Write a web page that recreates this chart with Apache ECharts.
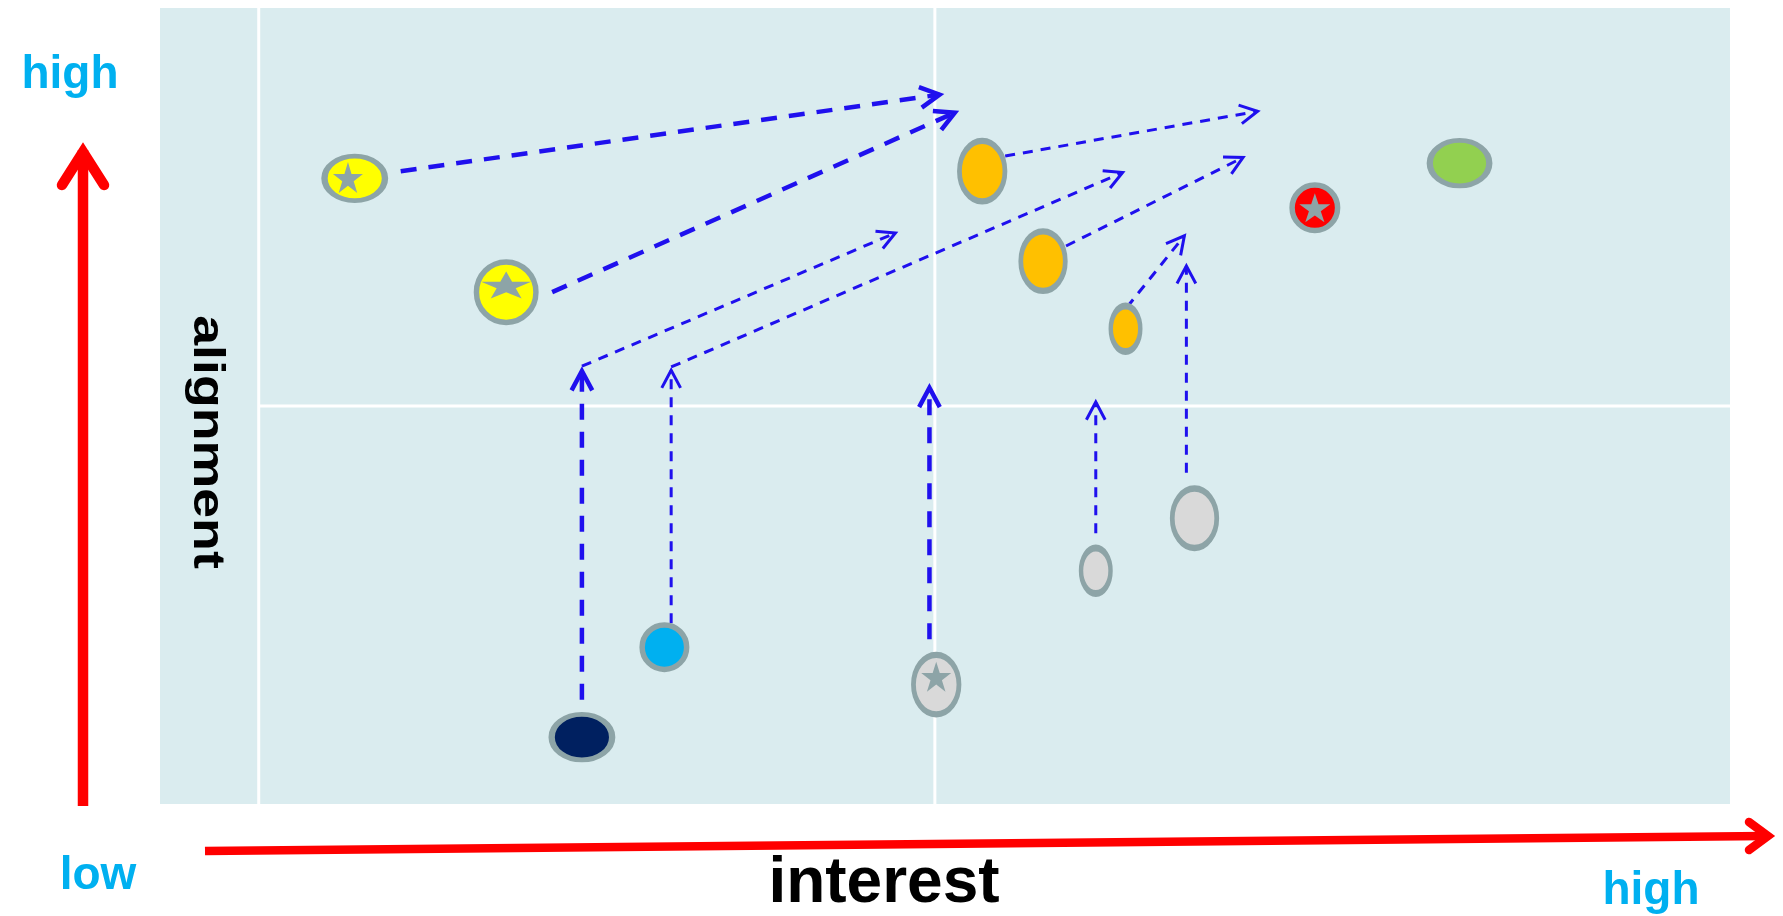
<!DOCTYPE html>
<html>
<head>
<meta charset="utf-8">
<script src="https://cdn.jsdelivr.net/npm/echarts@6/dist/echarts.min.js"></script>
<style>
  html, body { margin: 0; padding: 0; background: #ffffff; }
  #chart { width: 1783px; height: 916px; }
</style>
</head>
<body>
<div id="chart"></div>
<script>
// Stakeholders on the interest (x) / alignment (y) plane
const stakeholderX = [7.1, 18.3, 53.5, 58.0, 64.1, 78.1, 88.8, 23.9, 30.0, 50.1, 61.9, 69.2];
const stakeholderY = [78.6, 64.3, 79.5, 68.2, 59.7, 74.9, 80.5, 8.4, 19.7, 15.0, 29.3, 35.9];
const stakeholderFill = ['#FFFF00', '#FFFF00', '#FFC000', '#FFC000', '#FFC000', '#FF0000',
                         '#92D050', '#002060', '#00B0F0', '#D9D9D9', '#D9D9D9', '#D9D9D9'];
// Bubble footprint (outer width / height, px)
const bubbleW = [66, 65, 51, 50, 35, 51, 65, 66, 50, 51, 35, 50];
const bubbleH = [50, 66, 66, 65, 51, 51, 51, 51, 50, 65, 51, 65];

// Key stakeholders carry a star
const starX = [6.6, 18.3, 78.1, 50.1];
const starY = [78.7, 65.2, 74.9, 16.0];
const starW = [30, 50, 31, 30];
const starH = [31, 27, 29, 30];

// Planned moves: start point -> target point; heavy = primary shift
const moveFromX = [10.5, 21.7, 55.2, 59.7, 64.2, 68.6, 61.9, 49.6, 23.9, 23.9, 30.5, 30.5];
const moveFromY = [79.5, 64.3, 81.4, 70.1, 62.4, 41.6, 34.0, 20.7, 13.1, 55.0, 22.7, 54.9];
const moveToX   = [50.7, 51.8, 74.1, 73.0, 68.6, 68.6, 61.9, 49.6, 23.9, 47.3, 30.5, 64.1];
const moveToY   = [89.2, 87.1, 87.1, 81.4, 71.7, 68.0, 50.9, 52.9, 55.0, 71.9, 54.9, 79.5];
const moveHeavy = [1, 1, 0, 0, 0, 0, 0, 1, 1, 0, 0, 0];

// Quadrant dividers
const dividerX = [0, 50];
const dividerY = [50];

// Axis captions
const yCaption = 'alignment';
const xCaption = 'interest';
const lowLabel = 'low';
const highLabel = 'high';

const BLUE = '#1F10EE';
const EDGE = '#8DA4A7';
const BORDER = 5.5;
const RED = '#FF0000';
const CAPTION_BLUE = '#00B0F0';
const FONT = '"Liberation Sans", Arial, sans-serif';

const STAR_PATH = 'path://M0 -100 L22.45 -30.9 L95.1 -30.9 L36.3 11.8 L58.8 80.9 L0 38.2 L-58.8 80.9 L-36.3 11.8 L-95.1 -30.9 L-22.45 -30.9 Z';

const chart = echarts.init(document.getElementById('chart'), null, { renderer: 'canvas' });

const dividerData = dividerX.map(v => [v, 0, 0]).concat(dividerY.map(v => [0, v, 1]));
const moveData = moveFromX.map((x, i) => [x, moveFromY[i], moveToX[i], moveToY[i], moveHeavy[i]]);

function renderDivider(params, api) {
  const cs = params.coordSys;
  const p = api.coord([api.value(0), api.value(1)]);
  const shape = api.value(2) === 0
    ? { x1: p[0], y1: cs.y, x2: p[0], y2: cs.y + cs.height }
    : { x1: p[0], y1: p[1], x2: cs.x + cs.width, y2: p[1] };
  return { type: 'line', shape: shape, style: { stroke: '#FFFFFF', lineWidth: 3 } };
}

function renderMove(params, api) {
  const a = api.coord([api.value(0), api.value(1)]);
  const b = api.coord([api.value(2), api.value(3)]);
  const heavy = api.value(4) === 1;
  const lw = heavy ? 4.5 : 3;
  const dx = b[0] - a[0], dy = b[1] - a[1];
  const len = Math.hypot(dx, dy);
  const ux = dx / len, uy = dy / len;
  const arm = heavy ? 22 : 20;
  const ang = 28 * Math.PI / 180;
  // pull the vertex back so the mitred tip lands on the target
  const ext = (lw / 2) / Math.sin(ang);
  const v = [b[0] - ux * ext, b[1] - uy * ext];
  const c = Math.cos(ang), s = Math.sin(ang);
  const bx = -ux, by = -uy;
  const p1 = [v[0] + arm * (bx * c - by * s), v[1] + arm * (bx * s + by * c)];
  const p2 = [v[0] + arm * (bx * c + by * s), v[1] + arm * (-bx * s + by * c)];
  return {
    type: 'group',
    children: [
      { type: 'line', shape: { x1: a[0], y1: a[1], x2: v[0], y2: v[1] },
        style: { stroke: BLUE, lineWidth: lw, lineDash: heavy ? [16, 12] : [10, 8], fill: null } },
      { type: 'polyline', shape: { points: [p1, v, p2] },
        style: { stroke: BLUE, lineWidth: lw, lineJoin: 'miter', fill: null } }
    ]
  };
}

const option = {
  backgroundColor: '#FFFFFF',
  animation: false,
  grid: { left: 160, right: 53, top: 8, bottom: 112, show: true,
          backgroundColor: '#DAECEF', borderWidth: 0 },
  xAxis: { type: 'value', min: -7.3, max: 108.8, show: false },
  yAxis: { type: 'value', min: 0, max: 100, show: false },
  series: [
    { type: 'custom', z: 1, silent: true, data: dividerData, renderItem: renderDivider },
    { type: 'custom', z: 2, silent: true, data: moveData, renderItem: renderMove },
    {
      type: 'scatter', z: 3, silent: true, symbol: 'circle',
      itemStyle: { borderColor: EDGE, borderWidth: BORDER, opacity: 1 },
      data: stakeholderX.map((x, i) => ({
        value: [x, stakeholderY[i]],
        symbolSize: [bubbleW[i] - BORDER, bubbleH[i] - BORDER],
        itemStyle: { color: stakeholderFill[i] }
      }))
    },
    {
      type: 'scatter', z: 4, silent: true, symbol: STAR_PATH,
      itemStyle: { color: EDGE, opacity: 1 },
      data: starX.map((x, i) => ({ value: [x, starY[i]], symbolSize: [starW[i], starH[i]] }))
    }
  ],
  graphic: [
    // vertical red axis arrow
    { type: 'line', silent: true, shape: { x1: 83, y1: 806, x2: 83, y2: 150 },
      style: { stroke: RED, lineWidth: 10.5 } },
    { type: 'polyline', silent: true, shape: { points: [[62, 185], [83, 152], [104, 185]] },
      style: { stroke: RED, lineWidth: 10.5, lineCap: 'round', lineJoin: 'miter', fill: null } },
    // horizontal red axis arrow
    { type: 'line', silent: true, shape: { x1: 205, y1: 851, x2: 1766, y2: 836 },
      style: { stroke: RED, lineWidth: 8.5 } },
    { type: 'polyline', silent: true, shape: { points: [[1749, 822], [1768, 836], [1749, 850]] },
      style: { stroke: RED, lineWidth: 8.5, lineCap: 'round', lineJoin: 'miter', fill: null } },
    // captions
    { type: 'text', silent: true, x: 70, y: 75,
      style: { text: highLabel, font: 'bold 46px ' + FONT, fill: CAPTION_BLUE, align: 'center', verticalAlign: 'middle' } },
    { type: 'text', silent: true, x: 98, y: 876,
      style: { text: lowLabel, font: 'bold 46px ' + FONT, fill: CAPTION_BLUE, align: 'center', verticalAlign: 'middle' } },
    { type: 'text', silent: true, x: 1651, y: 891,
      style: { text: highLabel, font: 'bold 46px ' + FONT, fill: CAPTION_BLUE, align: 'center', verticalAlign: 'middle' } },
    { type: 'text', silent: true, x: 884, y: 884,
      style: { text: xCaption, font: 'bold 64px ' + FONT, fill: '#000000', align: 'center', verticalAlign: 'middle' } },
    { type: 'text', silent: true, x: 206, y: 442, rotation: -Math.PI / 2, scaleX: 1.22,
      style: { text: yCaption, font: 'bold 44px ' + FONT, fill: '#000000', align: 'center', verticalAlign: 'middle' } }
  ]
};

chart.setOption(option);
</script>
</body>
</html>
